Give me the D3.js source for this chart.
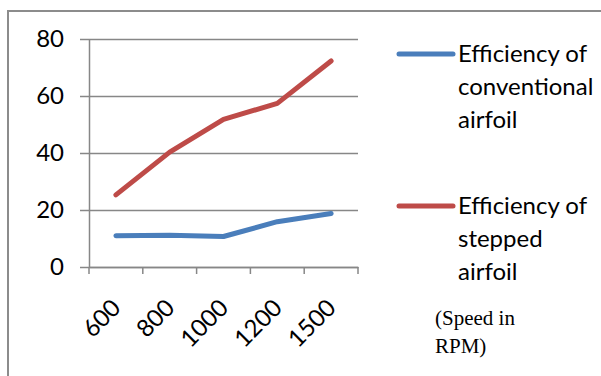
<!DOCTYPE html>
<html>
<head>
<meta charset="utf-8">
<script src="https://cdn.jsdelivr.net/npm/d3@7"></script>
<style>
html, body { margin: 0; padding: 0; background: #fff; }
svg { display: block; }
</style>
</head>
<body>
<svg id="chart" width="601" height="376"></svg>
<script>
const categories = ["600", "800", "1000", "1200", "1500"];
const conventional = [11.0, 11.1, 10.7, 15.9, 18.8];
const stepped = [25.3, 40.3, 51.8, 57.4, 72.3];
const yTicks = [0, 20, 40, 60, 80];
const seriesNames = [["Efficiency of", "conventional", "airfoil"], ["Efficiency of", "stepped", "airfoil"]];
const seriesColors = ["#4a7ebb", "#be4b48"];
const axisNote = ["(Speed in", "RPM)"];

const svg = d3.select("#chart");
const W = 601, H = 376;
const plot = { left: 89, right: 358, top: 39, bottom: 267 };
const fontMain = "Lato, 'Open Sans', sans-serif";

// outer frame
svg.append("rect").attr("x", 8).attr("y", 11).attr("width", W + 10).attr("height", H + 10)
  .attr("fill", "none").attr("stroke", "#8c8c8c").attr("stroke-width", 2);

const x = d3.scaleBand().domain(categories).range([plot.left, plot.right]).padding(0);
const y = d3.scaleLinear().domain([0, 80]).range([plot.bottom, plot.top]);

// gridlines
const grid = svg.append("g").attr("transform", `translate(${plot.left},0)`)
  .call(d3.axisLeft(y).tickValues(yTicks).tickSize(-(plot.right - plot.left)).tickFormat(""));
grid.select(".domain").remove();
grid.selectAll(".tick line").attr("stroke", "#878787").attr("stroke-width", 1.5);

// y axis line + outer tick marks
const yAxis = svg.append("g").attr("transform", `translate(${plot.left},0)`)
  .call(d3.axisLeft(y).tickValues(yTicks).tickSize(9).tickSizeOuter(0).tickPadding(16));
yAxis.select(".domain").attr("stroke", "#878787").attr("stroke-width", 1.5);
yAxis.selectAll(".tick line").attr("stroke", "#878787").attr("stroke-width", 1.5);
yAxis.selectAll(".tick text").attr("font-family", fontMain).attr("font-size", 24).attr("fill", "#000");

// x axis
const xAxis = svg.append("g").attr("transform", `translate(0,${plot.bottom})`)
  .call(d3.axisBottom(x).tickSize(0).tickFormat(""));
xAxis.select(".domain").attr("stroke", "#878787").attr("stroke-width", 1.5);
const edges = categories.map(c => x(c)).concat([x.range()[1]]);
svg.append("g").selectAll("line").data(edges).join("line")
  .attr("x1", d => d).attr("x2", d => d)
  .attr("y1", plot.bottom).attr("y2", plot.bottom + 7)
  .attr("stroke", "#878787").attr("stroke-width", 1.5);

svg.append("g").selectAll("text").data(categories).join("text")
  .attr("transform", d => `translate(${x(d) + x.bandwidth() / 2 + 2},${plot.bottom + 38}) rotate(-45)`)
  .attr("text-anchor", "end")
  .attr("dominant-baseline", "middle")
  .attr("font-family", fontMain).attr("font-size", 24).attr("fill", "#000")
  .text(d => d);

// lines
const line = d3.line().x((d, i) => x(categories[i]) + x.bandwidth() / 2).y(d => y(d));
[conventional, stepped].forEach((s, i) => {
  svg.append("path").datum(s).attr("d", line)
    .attr("fill", "none").attr("stroke", seriesColors[i]).attr("stroke-width", 5)
    .attr("stroke-linecap", "round").attr("stroke-linejoin", "round");
});

// legend
const legendTops = [54, 206];
seriesNames.forEach((lines, i) => {
  const g = svg.append("g");
  g.append("line").attr("x1", 399).attr("x2", 453).attr("y1", legendTops[i]).attr("y2", legendTops[i])
    .attr("stroke", seriesColors[i]).attr("stroke-width", 5).attr("stroke-linecap", "round");
  lines.forEach((t, j) => {
    g.append("text").attr("x", 458).attr("y", legendTops[i] + 8 + j * 33)
      .attr("font-family", fontMain).attr("font-size", 24).attr("fill", "#000").text(t);
  });
});

axisNote.forEach((t, j) => {
  svg.append("text").attr("x", 435).attr("y", 325 + j * 28)
    .attr("font-family", "'Liberation Serif', 'Times New Roman', serif").attr("font-size", 21)
    .attr("fill", "#000").text(t);
});
</script>
</body>
</html>
